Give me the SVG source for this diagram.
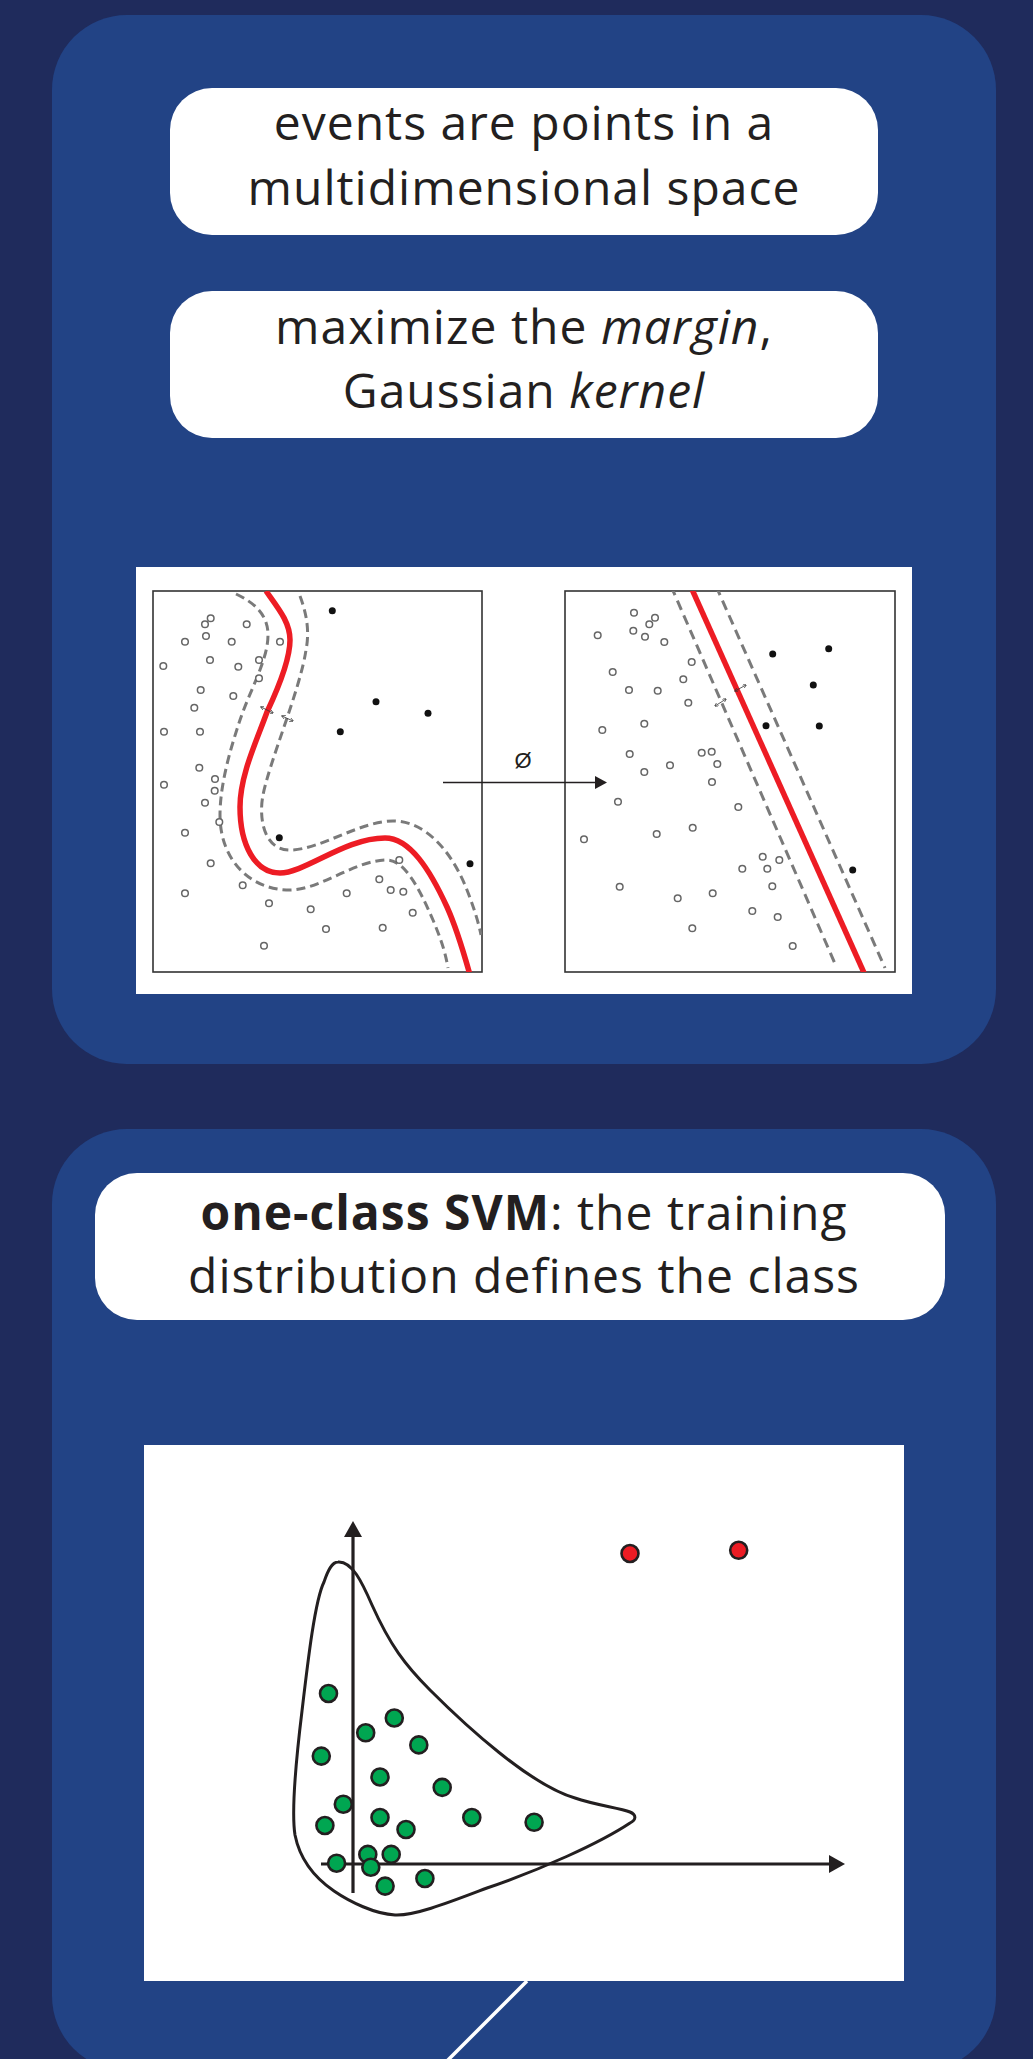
<svg xmlns="http://www.w3.org/2000/svg" width="1033" height="2059" viewBox="0 0 1033 2059">
<defs>
<style>
.panel{fill:#224385}
.box{fill:#ffffff}
.t{font-family:"Open Sans","Liberation Sans",sans-serif;font-weight:400;font-size:48px;fill:#231f20;letter-spacing:1px}
.frame{fill:#ffffff;stroke:#333333;stroke-width:1.6}
.oc{fill:#ffffff;stroke:#666666;stroke-width:1.5}
.fc{fill:#111111}
.red{fill:none;stroke:#ed1c24;stroke-width:5.5;stroke-linecap:butt}
.dash{fill:none;stroke:#7a7a7a;stroke-width:3}
.dl{stroke-dasharray:9 5}
.dr{stroke-dasharray:10 6}
.mar{fill:none;stroke:#333333;stroke-width:0.8;marker-start:url(#mh);marker-end:url(#mh)}
.axis{fill:none;stroke:#231f20;stroke-width:3.2}
.g{fill:#00a651;stroke:#231f20;stroke-width:2.6}
.r{fill:#ed1c24;stroke:#231f20;stroke-width:2.6}
</style>
<marker id="mh" viewBox="0 0 6 6" refX="5" refY="3" markerWidth="4" markerHeight="4" orient="auto-start-reverse" markerUnits="userSpaceOnUse">
<path d="M0,0 L6,3 L0,6" fill="none" stroke="#333" stroke-width="1"/>
</marker>
<clipPath id="cl"><rect x="153" y="591" width="329" height="381"/></clipPath>
<clipPath id="cr"><rect x="565" y="591" width="330" height="381"/></clipPath>
</defs>
<rect x="0" y="0" width="1033" height="2059" fill="#1f2b5c"/>

<g id="panel1">
<rect class="panel" x="52" y="15" width="944" height="1049" rx="75" ry="75"/>
</g>

<g id="box-events">
<rect class="box" x="170" y="88" width="708" height="147" rx="42" ry="42"/>
<text class="t" x="524" y="140" text-anchor="middle">events are points in a</text>
<text class="t" x="524" y="205" text-anchor="middle">multidimensional space</text>
</g>

<g id="box-margin">
<rect class="box" x="170" y="291" width="708" height="147" rx="42" ry="42"/>
<text class="t" x="524" y="344" text-anchor="middle">maximize the <tspan font-style="italic">margin</tspan>,</text>
<text class="t" x="524" y="408" text-anchor="middle">Gaussian <tspan font-style="italic">kernel</tspan></text>
</g>

<g id="svm-figure">
<rect x="136" y="567" width="776" height="427" fill="#ffffff"/>
<g id="plot-left">
<rect class="frame" x="153" y="591" width="329" height="381"/>
<g clip-path="url(#cl)">
<path class="dash dl" d="M 236,594 C 255,603 268,615 268,635 C 268,660 250,690 240,720 C 230,750 220,785 220,815 C 220,860 250,890 290,890 C 320,890 355,860 387,860 C 405,860 420,890 433,920 C 440,937 445,950 448,968"/>
<path class="dash dl" d="M 300,596 C 306,612 310,630 306,650 C 300,690 270,760 263,795 C 259,815 262,850 290,850 C 320,850 360,821 393,821 C 425,821 450,850 465,885 C 472,902 478,920 481,935"/>
<path class="red" d="M 266,591 C 278,608 290,622 290,640 C 290,660 275,695 267,712 C 257,740 240,775 240,807 C 240,845 255,873 280,873 C 305,873 345,838 385,838 C 410,838 430,870 447,907 C 457,929 463,950 470,975"/>
</g>
<line class="mar" x1="261" y1="707" x2="273" y2="713"/>
<line class="mar" x1="282" y1="716" x2="293" y2="721"/>
<g>
<circle class="oc" cx="210.7" cy="618.3" r="3.3"/>
<circle class="oc" cx="205" cy="624.3" r="3.3"/>
<circle class="oc" cx="246.7" cy="624.3" r="3.3"/>
<circle class="oc" cx="206" cy="636" r="3.3"/>
<circle class="oc" cx="185" cy="641.7" r="3.3"/>
<circle class="oc" cx="231.7" cy="641.7" r="3.3"/>
<circle class="oc" cx="280" cy="641.7" r="3.3"/>
<circle class="oc" cx="210" cy="660" r="3.3"/>
<circle class="oc" cx="259" cy="660" r="3.3"/>
<circle class="oc" cx="163.3" cy="666" r="3.3"/>
<circle class="oc" cx="238.3" cy="666.7" r="3.3"/>
<circle class="oc" cx="259" cy="678.3" r="3.3"/>
<circle class="oc" cx="200.7" cy="690" r="3.3"/>
<circle class="oc" cx="233.3" cy="696" r="3.3"/>
<circle class="oc" cx="194.3" cy="707.7" r="3.3"/>
<circle class="oc" cx="164" cy="731.7" r="3.3"/>
<circle class="oc" cx="200" cy="731.7" r="3.3"/>
<circle class="oc" cx="199.3" cy="767.7" r="3.3"/>
<circle class="oc" cx="215" cy="779" r="3.3"/>
<circle class="oc" cx="164" cy="784.7" r="3.3"/>
<circle class="oc" cx="214.7" cy="790.7" r="3.3"/>
<circle class="oc" cx="205" cy="802.7" r="3.3"/>
<circle class="oc" cx="219.3" cy="822" r="3.3"/>
<circle class="oc" cx="185" cy="832.7" r="3.3"/>
<circle class="oc" cx="210.7" cy="863.3" r="3.3"/>
<circle class="oc" cx="399.3" cy="860" r="3.3"/>
<circle class="oc" cx="379.3" cy="879.3" r="3.3"/>
<circle class="oc" cx="242.7" cy="885.3" r="3.3"/>
<circle class="oc" cx="390.7" cy="890" r="3.3"/>
<circle class="oc" cx="403.3" cy="891.7" r="3.3"/>
<circle class="oc" cx="185" cy="893.3" r="3.3"/>
<circle class="oc" cx="346.7" cy="893.3" r="3.3"/>
<circle class="oc" cx="269" cy="903.3" r="3.3"/>
<circle class="oc" cx="310.7" cy="909.3" r="3.3"/>
<circle class="oc" cx="412.7" cy="912.7" r="3.3"/>
<circle class="oc" cx="326" cy="929" r="3.3"/>
<circle class="oc" cx="382.7" cy="927.7" r="3.3"/>
<circle class="oc" cx="264" cy="945.7" r="3.3"/>
<circle class="fc" cx="332.3" cy="610.7" r="3.5"/>
<circle class="fc" cx="376" cy="701.7" r="3.5"/>
<circle class="fc" cx="428" cy="713.3" r="3.5"/>
<circle class="fc" cx="340.3" cy="731.7" r="3.5"/>
<circle class="fc" cx="279.3" cy="837.7" r="3.5"/>
<circle class="fc" cx="470" cy="863.7" r="3.5"/>
</g>
</g>
<g id="plot-right">
<rect class="frame" x="565" y="591" width="330" height="381"/>
<g clip-path="url(#cr)">
<line class="dash dr" x1="671" y1="586" x2="836" y2="966"/>
<line class="dash dr" x1="716" y1="586" x2="885" y2="968"/>
<line class="red" x1="690.5" y1="586" x2="865" y2="975"/>
</g>
<line class="mar" x1="715" y1="706" x2="726" y2="699"/>
<line class="mar" x1="735" y1="691" x2="746" y2="685"/>
<g>
<circle class="oc" cx="634" cy="612.7" r="3.3"/>
<circle class="oc" cx="655" cy="617.7" r="3.3"/>
<circle class="oc" cx="649.3" cy="624.3" r="3.3"/>
<circle class="oc" cx="633.3" cy="630.7" r="3.3"/>
<circle class="oc" cx="645" cy="636.7" r="3.3"/>
<circle class="oc" cx="597.7" cy="635.3" r="3.3"/>
<circle class="oc" cx="664.3" cy="642" r="3.3"/>
<circle class="oc" cx="691.7" cy="662" r="3.3"/>
<circle class="oc" cx="612.7" cy="672" r="3.3"/>
<circle class="oc" cx="683.3" cy="679.3" r="3.3"/>
<circle class="oc" cx="629" cy="690" r="3.3"/>
<circle class="oc" cx="657.7" cy="690.7" r="3.3"/>
<circle class="oc" cx="688.3" cy="702.7" r="3.3"/>
<circle class="oc" cx="644.3" cy="723.7" r="3.3"/>
<circle class="oc" cx="602.3" cy="730" r="3.3"/>
<circle class="oc" cx="629.7" cy="754" r="3.3"/>
<circle class="oc" cx="701.7" cy="752.7" r="3.3"/>
<circle class="oc" cx="711.7" cy="751.7" r="3.3"/>
<circle class="oc" cx="717.3" cy="764" r="3.3"/>
<circle class="oc" cx="670" cy="765.3" r="3.3"/>
<circle class="oc" cx="644.3" cy="772" r="3.3"/>
<circle class="oc" cx="712" cy="782" r="3.3"/>
<circle class="oc" cx="618" cy="801.7" r="3.3"/>
<circle class="oc" cx="738.3" cy="807" r="3.3"/>
<circle class="oc" cx="692.7" cy="827.7" r="3.3"/>
<circle class="oc" cx="656.7" cy="834" r="3.3"/>
<circle class="oc" cx="584" cy="839.3" r="3.3"/>
<circle class="oc" cx="762.7" cy="856.7" r="3.3"/>
<circle class="oc" cx="779.3" cy="860" r="3.3"/>
<circle class="oc" cx="742.3" cy="868.7" r="3.3"/>
<circle class="oc" cx="767.3" cy="868.7" r="3.3"/>
<circle class="oc" cx="772.3" cy="886.3" r="3.3"/>
<circle class="oc" cx="619.7" cy="886.7" r="3.3"/>
<circle class="oc" cx="677.7" cy="898.3" r="3.3"/>
<circle class="oc" cx="712.7" cy="893.3" r="3.3"/>
<circle class="oc" cx="752.3" cy="911" r="3.3"/>
<circle class="oc" cx="777.7" cy="917" r="3.3"/>
<circle class="oc" cx="692.3" cy="928.3" r="3.3"/>
<circle class="oc" cx="792.7" cy="946" r="3.3"/>
<circle class="fc" cx="772.7" cy="654" r="3.5"/>
<circle class="fc" cx="828.7" cy="648.7" r="3.5"/>
<circle class="fc" cx="813.3" cy="685" r="3.5"/>
<circle class="fc" cx="766" cy="725.7" r="3.5"/>
<circle class="fc" cx="819.3" cy="726" r="3.5"/>
<circle class="fc" cx="852.7" cy="870" r="3.5"/>
</g>
</g>
<g id="phi-map">
<line x1="443" y1="782.5" x2="597" y2="782.5" stroke="#231f20" stroke-width="1.5"/>
<polygon points="595,776 607,782.5 595,789" fill="#231f20"/>
<text x="523" y="768" text-anchor="middle" font-family="Liberation Sans, Arial, sans-serif" font-size="22" fill="#231f20">Ø</text>
</g>
</g>

<g id="panel2">
<rect class="panel" x="52" y="1129" width="944" height="942" rx="75" ry="75"/>
</g>

<g id="box-oneclass">
<rect class="box" x="95" y="1173" width="850" height="147" rx="42" ry="42"/>
<text class="t" x="524" y="1230" text-anchor="middle"><tspan font-weight="bold">one-class SVM</tspan>: the training</text>
<text class="t" x="524" y="1293" text-anchor="middle">distribution defines the class</text>
</g>

<g id="oneclass-figure">
<rect x="144" y="1445" width="760" height="536" fill="#ffffff"/>
<path fill="none" stroke="#231f20" stroke-width="3" d="M 338,1562 C 352,1561 362,1582 372,1605 C 390,1645 405,1665 430,1690 C 465,1725 530,1785 575,1798 C 595,1805 620,1808 630,1812 C 637,1815 636,1820 630,1823 C 600,1843 540,1870 487,1888 C 450,1902 415,1916 395,1915 C 375,1914 350,1902 334,1891 C 315,1878 300,1860 295,1835 C 291,1810 296,1760 302,1711 C 308,1660 315,1600 324,1582 C 328,1570 332,1562 338,1562 Z"/>
<line class="axis" x1="353" y1="1893" x2="353" y2="1534"/>
<polygon points="344,1537 353,1521 362,1537" fill="#231f20"/>
<line class="axis" x1="321" y1="1864" x2="831" y2="1864"/>
<polygon points="829,1855 845,1864 829,1873" fill="#231f20"/>
<circle class="g" cx="328.5" cy="1693.5" r="8.5"/>
<circle class="g" cx="394.3" cy="1718" r="8.5"/>
<circle class="g" cx="365.7" cy="1732.8" r="8.5"/>
<circle class="g" cx="418.8" cy="1744.9" r="8.5"/>
<circle class="g" cx="321.3" cy="1756.1" r="8.5"/>
<circle class="g" cx="380" cy="1777" r="8.5"/>
<circle class="g" cx="442.2" cy="1787.4" r="8.5"/>
<circle class="g" cx="343.3" cy="1804.2" r="8.5"/>
<circle class="g" cx="380" cy="1817.5" r="8.5"/>
<circle class="g" cx="471.8" cy="1817.5" r="8.5"/>
<circle class="g" cx="324.9" cy="1825.5" r="8.5"/>
<circle class="g" cx="406" cy="1829.5" r="8.5"/>
<circle class="g" cx="534.1" cy="1822.3" r="8.5"/>
<circle class="g" cx="367.8" cy="1854.4" r="8.5"/>
<circle class="g" cx="391.2" cy="1854.4" r="8.5"/>
<circle class="g" cx="336.6" cy="1863.2" r="8.5"/>
<circle class="g" cx="370.8" cy="1867.2" r="8.5"/>
<circle class="g" cx="424.9" cy="1878.5" r="8.5"/>
<circle class="g" cx="385.1" cy="1886.1" r="8.5"/>
<circle class="r" cx="630" cy="1553.5" r="8.5"/>
<circle class="r" cx="738.7" cy="1550.3" r="8.5"/>
</g>

<g id="connectors">
<line x1="527" y1="1981" x2="446" y2="2062" stroke="#ffffff" stroke-width="3.5"/>
</g>
</svg>
